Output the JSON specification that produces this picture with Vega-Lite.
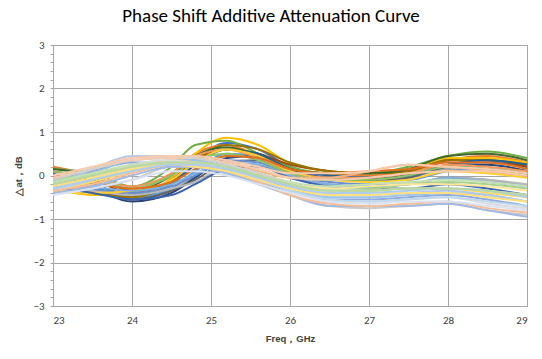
{
  "$schema": "https://vega.github.io/schema/vega-lite/v6.json",
  "autosize": {"type": "none"},
  "width": 474,
  "height": 261,
  "padding": {"left": 53, "top": 45, "right": 15, "bottom": 53},
  "background": "white",
  "title": {
    "text": "Phase Shift Additive Attenuation Curve",
    "font": "Carlito, Liberation Sans Narrow, Open Sans",
    "fontSize": 19,
    "fontWeight": "normal",
    "color": "#000000",
    "anchor": "middle",
    "dx": -19,
    "offset": 13
  },
  "config": {
    "view": {"stroke": "#A6A6A6", "strokeWidth": 1},
    "axis": {
      "labelFont": "Carlito, Liberation Sans Narrow, Open Sans",
      "titleFont": "Liberation Sans, Arial",
      "labelColor": "#404040",
      "titleColor": "#404040",
      "gridColor": "#A6A6A6",
      "domainColor": "#A6A6A6",
      "tickColor": "#A6A6A6",
      "labelFontSize": 11,
      "titleFontSize": 9.5,
      "titleFontWeight": "bold"
    }
  },
  "data": {"name": "curves"},
  "datasets": {
    "curves": [
{"s":"A01","f":23,"v":0.05},{"s":"A01","f":23.5,"v":-0.25},{"s":"A01","f":24,"v":-0.5},{"s":"A01","f":24.5,"v":-0.2},{"s":"A01","f":24.8,"v":0.35},{"s":"A01","f":25.2,"v":0.75},{"s":"A01","f":25.6,"v":0.6},{"s":"A01","f":26,"v":0.2},{"s":"A01","f":26.5,"v":0.0},{"s":"A01","f":27,"v":-0.05},{"s":"A01","f":27.5,"v":0.0},{"s":"A01","f":28,"v":0.25},{"s":"A01","f":28.5,"v":0.3},{"s":"A01","f":29,"v":0.2},
{"s":"A02","f":23,"v":0.2},{"s":"A02","f":23.5,"v":0.0},{"s":"A02","f":24,"v":-0.35},{"s":"A02","f":24.5,"v":0.05},{"s":"A02","f":24.8,"v":0.5},{"s":"A02","f":25.2,"v":0.7},{"s":"A02","f":25.6,"v":0.45},{"s":"A02","f":26,"v":0.15},{"s":"A02","f":26.5,"v":0.05},{"s":"A02","f":27,"v":0.0},{"s":"A02","f":27.5,"v":0.05},{"s":"A02","f":28,"v":0.35},{"s":"A02","f":28.5,"v":0.45},{"s":"A02","f":29,"v":0.3},
{"s":"A03","f":23,"v":-0.1},{"s":"A03","f":23.5,"v":-0.35},{"s":"A03","f":24,"v":-0.55},{"s":"A03","f":24.5,"v":-0.35},{"s":"A03","f":24.8,"v":0.0},{"s":"A03","f":25.2,"v":0.45},{"s":"A03","f":25.6,"v":0.45},{"s":"A03","f":26,"v":0.1},{"s":"A03","f":26.5,"v":-0.05},{"s":"A03","f":27,"v":-0.1},{"s":"A03","f":27.5,"v":-0.05},{"s":"A03","f":28,"v":0.15},{"s":"A03","f":28.5,"v":0.1},{"s":"A03","f":29,"v":0.0},
{"s":"A04","f":23,"v":-0.3},{"s":"A04","f":23.5,"v":-0.45},{"s":"A04","f":24,"v":-0.45},{"s":"A04","f":24.5,"v":-0.05},{"s":"A04","f":24.8,"v":0.5},{"s":"A04","f":25.2,"v":0.87},{"s":"A04","f":25.6,"v":0.7},{"s":"A04","f":26,"v":0.28},{"s":"A04","f":26.5,"v":0.1},{"s":"A04","f":27,"v":0.05},{"s":"A04","f":27.5,"v":0.1},{"s":"A04","f":28,"v":0.4},{"s":"A04","f":28.5,"v":0.4},{"s":"A04","f":29,"v":0.3},
{"s":"A05","f":23,"v":-0.15},{"s":"A05","f":23.5,"v":-0.3},{"s":"A05","f":24,"v":-0.5},{"s":"A05","f":24.5,"v":-0.3},{"s":"A05","f":24.8,"v":0.1},{"s":"A05","f":25.2,"v":0.5},{"s":"A05","f":25.6,"v":0.45},{"s":"A05","f":26,"v":0.1},{"s":"A05","f":26.5,"v":-0.1},{"s":"A05","f":27,"v":-0.1},{"s":"A05","f":27.5,"v":-0.1},{"s":"A05","f":28,"v":0.1},{"s":"A05","f":28.5,"v":0.15},{"s":"A05","f":29,"v":0.05},
{"s":"A06","f":23,"v":0.15},{"s":"A06","f":23.5,"v":0.05},{"s":"A06","f":24,"v":-0.25},{"s":"A06","f":24.5,"v":0.2},{"s":"A06","f":24.8,"v":0.7},{"s":"A06","f":25.2,"v":0.8},{"s":"A06","f":25.6,"v":0.5},{"s":"A06","f":26,"v":0.2},{"s":"A06","f":26.5,"v":0.05},{"s":"A06","f":27,"v":0.05},{"s":"A06","f":27.5,"v":0.2},{"s":"A06","f":28,"v":0.45},{"s":"A06","f":28.5,"v":0.55},{"s":"A06","f":29,"v":0.4},
{"s":"A07","f":23,"v":0.0},{"s":"A07","f":23.5,"v":-0.3},{"s":"A07","f":24,"v":-0.6},{"s":"A07","f":24.5,"v":-0.4},{"s":"A07","f":24.8,"v":-0.05},{"s":"A07","f":25.2,"v":0.4},{"s":"A07","f":25.6,"v":0.45},{"s":"A07","f":26,"v":0.15},{"s":"A07","f":26.5,"v":-0.05},{"s":"A07","f":27,"v":-0.05},{"s":"A07","f":27.5,"v":0.0},{"s":"A07","f":28,"v":0.2},{"s":"A07","f":28.5,"v":0.25},{"s":"A07","f":29,"v":0.1},
{"s":"A08","f":23,"v":0.1},{"s":"A08","f":23.5,"v":-0.1},{"s":"A08","f":24,"v":-0.4},{"s":"A08","f":24.5,"v":-0.1},{"s":"A08","f":24.8,"v":0.35},{"s":"A08","f":25.2,"v":0.6},{"s":"A08","f":25.6,"v":0.5},{"s":"A08","f":26,"v":0.25},{"s":"A08","f":26.5,"v":0.1},{"s":"A08","f":27,"v":0.05},{"s":"A08","f":27.5,"v":0.1},{"s":"A08","f":28,"v":0.35},{"s":"A08","f":28.5,"v":0.35},{"s":"A08","f":29,"v":0.2},
{"s":"A09","f":23,"v":-0.05},{"s":"A09","f":23.5,"v":-0.3},{"s":"A09","f":24,"v":-0.55},{"s":"A09","f":24.5,"v":-0.35},{"s":"A09","f":24.8,"v":-0.1},{"s":"A09","f":25.2,"v":0.3},{"s":"A09","f":25.6,"v":0.35},{"s":"A09","f":26,"v":0.05},{"s":"A09","f":26.5,"v":-0.1},{"s":"A09","f":27,"v":-0.1},{"s":"A09","f":27.5,"v":-0.05},{"s":"A09","f":28,"v":0.2},{"s":"A09","f":28.5,"v":0.15},{"s":"A09","f":29,"v":0.0},
{"s":"A10","f":23,"v":-0.2},{"s":"A10","f":23.5,"v":-0.4},{"s":"A10","f":24,"v":-0.5},{"s":"A10","f":24.5,"v":-0.15},{"s":"A10","f":24.8,"v":0.35},{"s":"A10","f":25.2,"v":0.7},{"s":"A10","f":25.6,"v":0.6},{"s":"A10","f":26,"v":0.3},{"s":"A10","f":26.5,"v":0.1},{"s":"A10","f":27,"v":0.05},{"s":"A10","f":27.5,"v":0.1},{"s":"A10","f":28,"v":0.35},{"s":"A10","f":28.5,"v":0.35},{"s":"A10","f":29,"v":0.25},
{"s":"A11","f":23,"v":0.0},{"s":"A11","f":23.5,"v":-0.2},{"s":"A11","f":24,"v":-0.45},{"s":"A11","f":24.5,"v":-0.2},{"s":"A11","f":24.8,"v":0.25},{"s":"A11","f":25.2,"v":0.6},{"s":"A11","f":25.6,"v":0.5},{"s":"A11","f":26,"v":0.15},{"s":"A11","f":26.5,"v":0.0},{"s":"A11","f":27,"v":-0.05},{"s":"A11","f":27.5,"v":0.0},{"s":"A11","f":28,"v":0.25},{"s":"A11","f":28.5,"v":0.35},{"s":"A11","f":29,"v":0.25},
{"s":"A12","f":23,"v":0.15},{"s":"A12","f":23.5,"v":0.0},{"s":"A12","f":24,"v":-0.35},{"s":"A12","f":24.5,"v":0.0},{"s":"A12","f":24.8,"v":0.45},{"s":"A12","f":25.2,"v":0.65},{"s":"A12","f":25.6,"v":0.45},{"s":"A12","f":26,"v":0.15},{"s":"A12","f":26.5,"v":0.05},{"s":"A12","f":27,"v":0.05},{"s":"A12","f":27.5,"v":0.15},{"s":"A12","f":28,"v":0.45},{"s":"A12","f":28.5,"v":0.5},{"s":"A12","f":29,"v":0.35},
{"s":"A13","f":23,"v":-0.1},{"s":"A13","f":23.5,"v":-0.3},{"s":"A13","f":24,"v":-0.4},{"s":"A13","f":24.5,"v":-0.25},{"s":"A13","f":24.8,"v":0.0},{"s":"A13","f":25.2,"v":0.35},{"s":"A13","f":25.6,"v":0.3},{"s":"A13","f":26,"v":0.0},{"s":"A13","f":26.5,"v":-0.15},{"s":"A13","f":27,"v":-0.2},{"s":"A13","f":27.5,"v":-0.2},{"s":"A13","f":28,"v":-0.05},{"s":"A13","f":28.5,"v":-0.1},{"s":"A13","f":29,"v":-0.25},
{"s":"A14","f":23,"v":0.1},{"s":"A14","f":23.5,"v":-0.05},{"s":"A14","f":24,"v":-0.25},{"s":"A14","f":24.5,"v":0.05},{"s":"A14","f":24.8,"v":0.45},{"s":"A14","f":25.2,"v":0.6},{"s":"A14","f":25.6,"v":0.4},{"s":"A14","f":26,"v":0.1},{"s":"A14","f":26.5,"v":-0.05},{"s":"A14","f":27,"v":-0.05},{"s":"A14","f":27.5,"v":0.05},{"s":"A14","f":28,"v":0.25},{"s":"A14","f":28.5,"v":0.2},{"s":"A14","f":29,"v":0.1},
{"s":"A15","f":23,"v":-0.2},{"s":"A15","f":23.5,"v":-0.35},{"s":"A15","f":24,"v":-0.45},{"s":"A15","f":24.5,"v":-0.3},{"s":"A15","f":24.8,"v":-0.15},{"s":"A15","f":25.2,"v":0.2},{"s":"A15","f":25.6,"v":0.2},{"s":"A15","f":26,"v":-0.05},{"s":"A15","f":26.5,"v":-0.2},{"s":"A15","f":27,"v":-0.25},{"s":"A15","f":27.5,"v":-0.2},{"s":"A15","f":28,"v":-0.05},{"s":"A15","f":28.5,"v":-0.1},{"s":"A15","f":29,"v":-0.2},
{"s":"A16","f":23,"v":-0.35},{"s":"A16","f":23.5,"v":-0.4},{"s":"A16","f":24,"v":-0.35},{"s":"A16","f":24.5,"v":-0.1},{"s":"A16","f":24.8,"v":0.3},{"s":"A16","f":25.2,"v":0.6},{"s":"A16","f":25.6,"v":0.45},{"s":"A16","f":26,"v":0.1},{"s":"A16","f":26.5,"v":-0.1},{"s":"A16","f":27,"v":-0.15},{"s":"A16","f":27.5,"v":-0.1},{"s":"A16","f":28,"v":0.1},{"s":"A16","f":28.5,"v":0.05},{"s":"A16","f":29,"v":-0.05},
{"s":"A17","f":23,"v":-0.05},{"s":"A17","f":23.5,"v":-0.25},{"s":"A17","f":24,"v":-0.35},{"s":"A17","f":24.5,"v":-0.2},{"s":"A17","f":24.8,"v":0.05},{"s":"A17","f":25.2,"v":0.3},{"s":"A17","f":25.6,"v":0.25},{"s":"A17","f":26,"v":0.0},{"s":"A17","f":26.5,"v":-0.2},{"s":"A17","f":27,"v":-0.25},{"s":"A17","f":27.5,"v":-0.2},{"s":"A17","f":28,"v":-0.05},{"s":"A17","f":28.5,"v":-0.15},{"s":"A17","f":29,"v":-0.25},
{"s":"A18","f":23,"v":0.1},{"s":"A18","f":23.5,"v":-0.05},{"s":"A18","f":24,"v":-0.3},{"s":"A18","f":24.5,"v":0.0},{"s":"A18","f":24.8,"v":0.35},{"s":"A18","f":25.2,"v":0.5},{"s":"A18","f":25.6,"v":0.35},{"s":"A18","f":26,"v":0.05},{"s":"A18","f":26.5,"v":-0.1},{"s":"A18","f":27,"v":-0.1},{"s":"A18","f":27.5,"v":0.0},{"s":"A18","f":28,"v":0.2},{"s":"A18","f":28.5,"v":0.15},{"s":"A18","f":29,"v":0.05},
{"s":"A19","f":23,"v":-0.25},{"s":"A19","f":23.5,"v":-0.4},{"s":"A19","f":24,"v":-0.55},{"s":"A19","f":24.5,"v":-0.45},{"s":"A19","f":24.8,"v":-0.2},{"s":"A19","f":25.2,"v":0.15},{"s":"A19","f":25.6,"v":0.2},{"s":"A19","f":26,"v":-0.05},{"s":"A19","f":26.5,"v":-0.25},{"s":"A19","f":27,"v":-0.3},{"s":"A19","f":27.5,"v":-0.3},{"s":"A19","f":28,"v":-0.2},{"s":"A19","f":28.5,"v":-0.3},{"s":"A19","f":29,"v":-0.45},
{"s":"A20","f":23,"v":0.0},{"s":"A20","f":23.5,"v":-0.15},{"s":"A20","f":24,"v":-0.3},{"s":"A20","f":24.5,"v":-0.15},{"s":"A20","f":24.8,"v":0.15},{"s":"A20","f":25.2,"v":0.45},{"s":"A20","f":25.6,"v":0.4},{"s":"A20","f":26,"v":0.15},{"s":"A20","f":26.5,"v":0.05},{"s":"A20","f":27,"v":0.1},{"s":"A20","f":27.5,"v":0.15},{"s":"A20","f":28,"v":0.3},{"s":"A20","f":28.5,"v":0.3},{"s":"A20","f":29,"v":0.15},
{"s":"B01","f":23,"v":-0.15},{"s":"B01","f":23.5,"v":0.1},{"s":"B01","f":24,"v":0.3},{"s":"B01","f":24.5,"v":0.3},{"s":"B01","f":24.8,"v":0.2},{"s":"B01","f":25.2,"v":0.05},{"s":"B01","f":25.6,"v":-0.15},{"s":"B01","f":26,"v":-0.35},{"s":"B01","f":26.5,"v":-0.55},{"s":"B01","f":27,"v":-0.55},{"s":"B01","f":27.5,"v":-0.5},{"s":"B01","f":28,"v":-0.45},{"s":"B01","f":28.5,"v":-0.55},{"s":"B01","f":29,"v":-0.7},
{"s":"B02","f":23,"v":-0.3},{"s":"B02","f":23.5,"v":-0.1},{"s":"B02","f":24,"v":0.2},{"s":"B02","f":24.5,"v":0.35},{"s":"B02","f":24.8,"v":0.35},{"s":"B02","f":25.2,"v":0.3},{"s":"B02","f":25.6,"v":0.1},{"s":"B02","f":26,"v":-0.05},{"s":"B02","f":26.5,"v":-0.05},{"s":"B02","f":27,"v":0.1},{"s":"B02","f":27.5,"v":0.25},{"s":"B02","f":28,"v":0.2},{"s":"B02","f":28.5,"v":0.1},{"s":"B02","f":29,"v":0.0},
{"s":"B03","f":23,"v":-0.4},{"s":"B03","f":23.5,"v":-0.3},{"s":"B03","f":24,"v":-0.1},{"s":"B03","f":24.5,"v":0.2},{"s":"B03","f":24.8,"v":0.2},{"s":"B03","f":25.2,"v":0.1},{"s":"B03","f":25.6,"v":-0.15},{"s":"B03","f":26,"v":-0.45},{"s":"B03","f":26.5,"v":-0.7},{"s":"B03","f":27,"v":-0.75},{"s":"B03","f":27.5,"v":-0.7},{"s":"B03","f":28,"v":-0.65},{"s":"B03","f":28.5,"v":-0.8},{"s":"B03","f":29,"v":-0.9},
{"s":"B04","f":23,"v":-0.35},{"s":"B04","f":23.5,"v":-0.15},{"s":"B04","f":24,"v":0.1},{"s":"B04","f":24.5,"v":0.25},{"s":"B04","f":24.8,"v":0.25},{"s":"B04","f":25.2,"v":0.15},{"s":"B04","f":25.6,"v":-0.05},{"s":"B04","f":26,"v":-0.25},{"s":"B04","f":26.5,"v":-0.4},{"s":"B04","f":27,"v":-0.35},{"s":"B04","f":27.5,"v":-0.3},{"s":"B04","f":28,"v":-0.3},{"s":"B04","f":28.5,"v":-0.4},{"s":"B04","f":29,"v":-0.5},
{"s":"B05","f":23,"v":-0.2},{"s":"B05","f":23.5,"v":0.05},{"s":"B05","f":24,"v":0.35},{"s":"B05","f":24.5,"v":0.4},{"s":"B05","f":24.8,"v":0.35},{"s":"B05","f":25.2,"v":0.2},{"s":"B05","f":25.6,"v":-0.05},{"s":"B05","f":26,"v":-0.3},{"s":"B05","f":26.5,"v":-0.5},{"s":"B05","f":27,"v":-0.5},{"s":"B05","f":27.5,"v":-0.45},{"s":"B05","f":28,"v":-0.4},{"s":"B05","f":28.5,"v":-0.45},{"s":"B05","f":29,"v":-0.6},
{"s":"B06","f":23,"v":-0.1},{"s":"B06","f":23.5,"v":0.05},{"s":"B06","f":24,"v":0.2},{"s":"B06","f":24.5,"v":0.25},{"s":"B06","f":24.8,"v":0.25},{"s":"B06","f":25.2,"v":0.15},{"s":"B06","f":25.6,"v":0.0},{"s":"B06","f":26,"v":-0.2},{"s":"B06","f":26.5,"v":-0.3},{"s":"B06","f":27,"v":-0.3},{"s":"B06","f":27.5,"v":-0.2},{"s":"B06","f":28,"v":-0.15},{"s":"B06","f":28.5,"v":-0.2},{"s":"B06","f":29,"v":-0.3},
{"s":"B07","f":23,"v":-0.25},{"s":"B07","f":23.5,"v":0.15},{"s":"B07","f":24,"v":0.45},{"s":"B07","f":24.5,"v":0.45},{"s":"B07","f":24.8,"v":0.4},{"s":"B07","f":25.2,"v":0.25},{"s":"B07","f":25.6,"v":0.05},{"s":"B07","f":26,"v":-0.25},{"s":"B07","f":26.5,"v":-0.45},{"s":"B07","f":27,"v":-0.45},{"s":"B07","f":27.5,"v":-0.4},{"s":"B07","f":28,"v":-0.35},{"s":"B07","f":28.5,"v":-0.45},{"s":"B07","f":29,"v":-0.6},
{"s":"B08","f":23,"v":-0.05},{"s":"B08","f":23.5,"v":0.15},{"s":"B08","f":24,"v":0.35},{"s":"B08","f":24.5,"v":0.4},{"s":"B08","f":24.8,"v":0.4},{"s":"B08","f":25.2,"v":0.3},{"s":"B08","f":25.6,"v":0.15},{"s":"B08","f":26,"v":-0.05},{"s":"B08","f":26.5,"v":-0.1},{"s":"B08","f":27,"v":-0.05},{"s":"B08","f":27.5,"v":0.05},{"s":"B08","f":28,"v":0.1},{"s":"B08","f":28.5,"v":0.1},{"s":"B08","f":29,"v":0.0},
{"s":"B09","f":23,"v":-0.3},{"s":"B09","f":23.5,"v":-0.05},{"s":"B09","f":24,"v":0.25},{"s":"B09","f":24.5,"v":0.35},{"s":"B09","f":24.8,"v":0.3},{"s":"B09","f":25.2,"v":0.15},{"s":"B09","f":25.6,"v":-0.1},{"s":"B09","f":26,"v":-0.35},{"s":"B09","f":26.5,"v":-0.6},{"s":"B09","f":27,"v":-0.6},{"s":"B09","f":27.5,"v":-0.55},{"s":"B09","f":28,"v":-0.5},{"s":"B09","f":28.5,"v":-0.65},{"s":"B09","f":29,"v":-0.75},
{"s":"B10","f":23,"v":-0.2},{"s":"B10","f":23.5,"v":0.0},{"s":"B10","f":24,"v":0.2},{"s":"B10","f":24.5,"v":0.3},{"s":"B10","f":24.8,"v":0.3},{"s":"B10","f":25.2,"v":0.2},{"s":"B10","f":25.6,"v":0.05},{"s":"B10","f":26,"v":-0.15},{"s":"B10","f":26.5,"v":-0.3},{"s":"B10","f":27,"v":-0.25},{"s":"B10","f":27.5,"v":-0.2},{"s":"B10","f":28,"v":-0.2},{"s":"B10","f":28.5,"v":-0.25},{"s":"B10","f":29,"v":-0.35},
{"s":"B11","f":23,"v":-0.35},{"s":"B11","f":23.5,"v":-0.1},{"s":"B11","f":24,"v":0.15},{"s":"B11","f":24.5,"v":0.3},{"s":"B11","f":24.8,"v":0.3},{"s":"B11","f":25.2,"v":0.15},{"s":"B11","f":25.6,"v":-0.1},{"s":"B11","f":26,"v":-0.35},{"s":"B11","f":26.5,"v":-0.55},{"s":"B11","f":27,"v":-0.6},{"s":"B11","f":27.5,"v":-0.55},{"s":"B11","f":28,"v":-0.5},{"s":"B11","f":28.5,"v":-0.6},{"s":"B11","f":29,"v":-0.7},
{"s":"B12","f":23,"v":-0.15},{"s":"B12","f":23.5,"v":0.05},{"s":"B12","f":24,"v":0.25},{"s":"B12","f":24.5,"v":0.3},{"s":"B12","f":24.8,"v":0.3},{"s":"B12","f":25.2,"v":0.2},{"s":"B12","f":25.6,"v":0.05},{"s":"B12","f":26,"v":-0.15},{"s":"B12","f":26.5,"v":-0.25},{"s":"B12","f":27,"v":-0.2},{"s":"B12","f":27.5,"v":-0.15},{"s":"B12","f":28,"v":-0.1},{"s":"B12","f":28.5,"v":-0.15},{"s":"B12","f":29,"v":-0.25},
{"s":"B13","f":23,"v":-0.4},{"s":"B13","f":23.5,"v":-0.25},{"s":"B13","f":24,"v":0.0},{"s":"B13","f":24.5,"v":0.2},{"s":"B13","f":24.8,"v":0.2},{"s":"B13","f":25.2,"v":0.05},{"s":"B13","f":25.6,"v":-0.2},{"s":"B13","f":26,"v":-0.45},{"s":"B13","f":26.5,"v":-0.7},{"s":"B13","f":27,"v":-0.7},{"s":"B13","f":27.5,"v":-0.7},{"s":"B13","f":28,"v":-0.65},{"s":"B13","f":28.5,"v":-0.8},{"s":"B13","f":29,"v":-0.95},
{"s":"B14","f":23,"v":-0.35},{"s":"B14","f":23.5,"v":-0.2},{"s":"B14","f":24,"v":0.05},{"s":"B14","f":24.5,"v":0.25},{"s":"B14","f":24.8,"v":0.25},{"s":"B14","f":25.2,"v":0.1},{"s":"B14","f":25.6,"v":-0.15},{"s":"B14","f":26,"v":-0.45},{"s":"B14","f":26.5,"v":-0.65},{"s":"B14","f":27,"v":-0.7},{"s":"B14","f":27.5,"v":-0.65},{"s":"B14","f":28,"v":-0.6},{"s":"B14","f":28.5,"v":-0.75},{"s":"B14","f":29,"v":-0.85},
{"s":"B15","f":23,"v":-0.1},{"s":"B15","f":23.5,"v":0.15},{"s":"B15","f":24,"v":0.4},{"s":"B15","f":24.5,"v":0.45},{"s":"B15","f":24.8,"v":0.4},{"s":"B15","f":25.2,"v":0.25},{"s":"B15","f":25.6,"v":0.05},{"s":"B15","f":26,"v":-0.2},{"s":"B15","f":26.5,"v":-0.35},{"s":"B15","f":27,"v":-0.35},{"s":"B15","f":27.5,"v":-0.3},{"s":"B15","f":28,"v":-0.3},{"s":"B15","f":28.5,"v":-0.35},{"s":"B15","f":29,"v":-0.45},
{"s":"B16","f":23,"v":-0.25},{"s":"B16","f":23.5,"v":-0.05},{"s":"B16","f":24,"v":0.15},{"s":"B16","f":24.5,"v":0.25},{"s":"B16","f":24.8,"v":0.2},{"s":"B16","f":25.2,"v":0.1},{"s":"B16","f":25.6,"v":-0.1},{"s":"B16","f":26,"v":-0.3},{"s":"B16","f":26.5,"v":-0.45},{"s":"B16","f":27,"v":-0.45},{"s":"B16","f":27.5,"v":-0.4},{"s":"B16","f":28,"v":-0.4},{"s":"B16","f":28.5,"v":-0.5},{"s":"B16","f":29,"v":-0.6},
{"s":"B17","f":23,"v":-0.3},{"s":"B17","f":23.5,"v":-0.1},{"s":"B17","f":24,"v":0.1},{"s":"B17","f":24.5,"v":0.25},{"s":"B17","f":24.8,"v":0.25},{"s":"B17","f":25.2,"v":0.15},{"s":"B17","f":25.6,"v":-0.05},{"s":"B17","f":26,"v":-0.25},{"s":"B17","f":26.5,"v":-0.4},{"s":"B17","f":27,"v":-0.4},{"s":"B17","f":27.5,"v":-0.35},{"s":"B17","f":28,"v":-0.3},{"s":"B17","f":28.5,"v":-0.35},{"s":"B17","f":29,"v":-0.5},
{"s":"B18","f":23,"v":-0.2},{"s":"B18","f":23.5,"v":0.0},{"s":"B18","f":24,"v":0.2},{"s":"B18","f":24.5,"v":0.3},{"s":"B18","f":24.8,"v":0.3},{"s":"B18","f":25.2,"v":0.2},{"s":"B18","f":25.6,"v":0.0},{"s":"B18","f":26,"v":-0.2},{"s":"B18","f":26.5,"v":-0.35},{"s":"B18","f":27,"v":-0.35},{"s":"B18","f":27.5,"v":-0.3},{"s":"B18","f":28,"v":-0.3},{"s":"B18","f":28.5,"v":-0.35},{"s":"B18","f":29,"v":-0.45},
{"s":"B19","f":23,"v":0.0},{"s":"B19","f":23.5,"v":0.2},{"s":"B19","f":24,"v":0.4},{"s":"B19","f":24.5,"v":0.45},{"s":"B19","f":24.8,"v":0.45},{"s":"B19","f":25.2,"v":0.35},{"s":"B19","f":25.6,"v":0.2},{"s":"B19","f":26,"v":0.05},{"s":"B19","f":26.5,"v":0.05},{"s":"B19","f":27,"v":0.1},{"s":"B19","f":27.5,"v":0.25},{"s":"B19","f":28,"v":0.2},{"s":"B19","f":28.5,"v":0.15},{"s":"B19","f":29,"v":0.05},
{"s":"B20","f":23,"v":-0.45},{"s":"B20","f":23.5,"v":-0.3},{"s":"B20","f":24,"v":-0.1},{"s":"B20","f":24.5,"v":0.1},{"s":"B20","f":24.8,"v":0.1},{"s":"B20","f":25.2,"v":0.0},{"s":"B20","f":25.6,"v":-0.2},{"s":"B20","f":26,"v":-0.4},{"s":"B20","f":26.5,"v":-0.6},{"s":"B20","f":27,"v":-0.65},{"s":"B20","f":27.5,"v":-0.6},{"s":"B20","f":28,"v":-0.6},{"s":"B20","f":28.5,"v":-0.7},{"s":"B20","f":29,"v":-0.8}
    ]
  },
  "mark": {"type": "line", "strokeWidth": 2, "interpolate": "monotone", "clip": true},
  "encoding": {
    "x": {
      "field": "f",
      "type": "quantitative",
      "scale": {"domain": [23, 29], "nice": false},
      "axis": {
        "title": "Freq，GHz",
        "values": [23, 24, 25, 26, 27, 28, 29],
        "format": "d",
        "grid": true,
        "tickSize": 0,
        "labelPadding": 8,
        "titlePadding": 8
      }
    },
    "y": {
      "field": "v",
      "type": "quantitative",
      "scale": {"domain": [-3, 3], "nice": false, "zero": false},
      "axis": {
        "title": "△at，dB",
        "values": [-3,-2.8,-2.6,-2.4,-2.2,-2,-1.8,-1.6,-1.4,-1.2,-1,-0.8,-0.6,-0.4,-0.2,0,0.2,0.4,0.6,0.8,1,1.2,1.4,1.6,1.8,2,2.2,2.4,2.6,2.8,3],
        "labelExpr": "abs(datum.value - round(datum.value)) < 0.01 ? format(round(datum.value), 'd') : ''",
        "grid": true,
        "gridOpacity": {"condition": {"test": "abs(datum.value - round(datum.value)) < 0.01", "value": 1}, "value": 0},
        "tickSize": 3,
        "labelPadding": 6,
        "titlePadding": 9
      }
    },
    "color": {
      "field": "s",
      "type": "nominal",
      "legend": null,
      "scale": {
        "range": ["#4472C4","#ED7D31","#A5A5A5","#FFC000","#5B9BD5","#70AD47","#264478","#9E480E","#636363","#997300","#255E91","#43682B","#698ED0","#F1975A","#B7B7B7","#FFCD33","#7CAFDD","#8CC168","#3A64B0","#E07020","#8FAADC","#F4B183","#C9C9C9","#FFD966","#9DC3E6","#A9D18E","#B4C7E7","#F8CBAD","#DBDBDB","#FFE699","#BDD7EE","#C5E0B4","#A2B9E2","#F6BE98","#D0D0D0","#FFDF80","#ADCDEA","#B7D9A1","#F8CBAD","#D9E2F3"]
      }
    }
  }
}
